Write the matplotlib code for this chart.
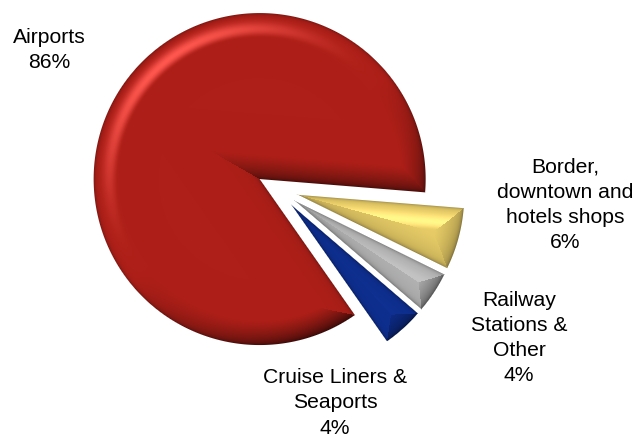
import numpy as np
import matplotlib
matplotlib.use("Agg")
from matplotlib import pyplot as plt

plt.rcParams['font.family'] = ['Liberation Sans', 'DejaVu Sans']

categories = ["Airports", "Border,\ndowntown and\nhotels shops", "Railway\nStations &\nOther", "Cruise Liners &\nSeaports"]
shares = [86, 6, 4, 4]
colors = ["#AD1F18", "#E6CB66", "#B4B4B4", "#0E2E8E"]

WIDTH, HEIGHT = 644, 447
LIGHT = np.array([-0.62, 0.78])


def bevel_image(wedge, base, bevel=25.0, depth=0.6):
    """RGBA shading for one pie wedge: a mitred bevel lit from the upper left"""
    cx, cy = wedge.center
    xx, yy = np.meshgrid(np.arange(WIDTH) + 0.5, HEIGHT - np.arange(HEIGHT) - 0.5)
    dx, dy = xx - cx, yy - cy
    rad = np.hypot(dx, dy)

    t1, t2 = np.radians(wedge.theta1), np.radians(wedge.theta2)
    # distance inwards from the arc and from the two straight sides
    d_arc = wedge.r - rad
    d_1 = -dx * np.sin(t1) + dy * np.cos(t1)
    d_2 = dx * np.sin(t2) - dy * np.cos(t2)

    if wedge.theta2 - wedge.theta1 > 180:
        # reflex wedge: inside is either side of the gap
        d_sides = np.maximum(d_1, d_2)
        use_1 = d_1 > d_2
    else:
        d_sides = np.minimum(d_1, d_2)
        use_1 = d_1 < d_2
    dist = np.minimum(d_arc, d_sides)

    # outward normal of whichever edge is nearest
    nx = np.where(use_1, np.sin(t1), -np.sin(t2))
    ny = np.where(use_1, -np.cos(t1), np.cos(t2))
    on_arc = d_arc < d_sides
    nx = np.where(on_arc, dx / np.maximum(rad, 1e-6), nx)
    ny = np.where(on_arc, dy / np.maximum(rad, 1e-6), ny)

    lit = nx * LIGHT[0] + ny * LIGHT[1]
    t = np.clip(dist / bevel, 0, 1)
    # highlights sit inside the bevel, shadows hug the rim
    bright = np.clip(lit, 0, 1) ** 2 * np.sin(np.pi * t ** 1.5) ** 2
    dark = np.clip(-lit, 0, 1) * (1 - t) ** 1.3
    rim = np.exp(-np.maximum(dist, 0) / 1.8)
    rgb = np.array(matplotlib.colors.to_rgb(base))

    img = rgb * (1 + 0.38 * bright[..., None]) + (1 - rgb) * 0.2 * bright[..., None]
    img = img * (1 - depth * dark[..., None]) * (1 - 0.3 * rim[..., None])
    alpha = np.clip(dist + 0.5, 0, 1)
    return np.dstack([np.clip(img, 0, 1), alpha])


fig = plt.figure(figsize=(WIDTH / 100, HEIGHT / 100), dpi=100)
axes = fig.add_axes([0, 0, 1, 1])
wedges, _ = axes.pie(shares, colors=colors, startangle=-55, radius=166, center=(277, HEIGHT - 189),
                     explode=[20, 22, 22, 22], counterclock=False, frame=True)

# the big slice takes a deeper shadow than the thin ones
for w, base, depth in zip(wedges, colors, [0.6, 0.3, 0.4, 0.35]):
    w.set_visible(False)
    axes.imshow(bevel_image(w, base, depth=depth), extent=(0, WIDTH, 0, HEIGHT), origin='upper', zorder=3,
                interpolation='bilinear')

axes.set_xlim(0, WIDTH)
axes.set_ylim(0, HEIGHT)
axes.set_aspect('auto')
axes.set_axis_off()

# labels stacked as name then share
label_xy = [(49.5, HEIGHT - 50), (565, HEIGHT - 205), (519, HEIGHT - 338), (335, HEIGHT - 403)]
for label, share, (x, y) in zip(categories, shares, label_xy):
    axes.text(x, y, "{}\n{}%".format(label, share), ha='center', va='center', fontsize=15.2,
              linespacing=1.41, color='black', zorder=4)

plt.savefig("out.png", dpi=100)
